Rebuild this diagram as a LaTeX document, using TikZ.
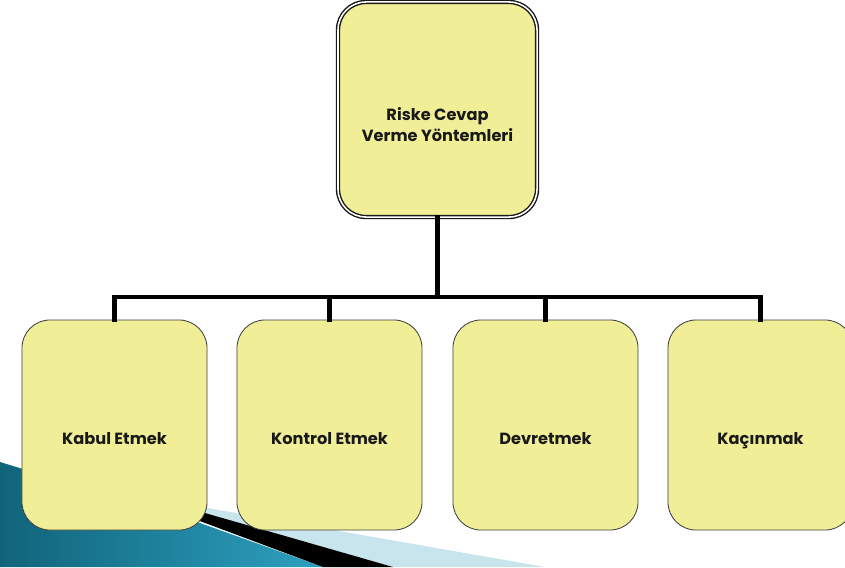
\documentclass[tikz,border=0pt]{standalone}
\usepackage{fontspec}
\setmainfont{Poppins}
\usepackage{tikz}

\definecolor{boxyellow}{RGB}{240,238,150}
\definecolor{tealdark}{RGB}{16,100,122}
\definecolor{teallight}{RGB}{45,160,192}
\definecolor{paleblue}{RGB}{200,228,236}

\begin{document}
\begin{tikzpicture}[x=0.025cm,y=-0.025cm,
    box/.style={draw=black!75, fill=boxyellow, rounded corners=0.7cm, line width=.6pt,
        minimum width=4.625cm, minimum height=5.25cm, inner sep=0},
    rootbox/.style={box, draw=black!90, double=white, double distance=1.1pt, line width=1pt,
        minimum width=4.975cm, minimum height=5.375cm},
    txt/.style={font=\bfseries\fontsize{11.5}{15}\selectfont, text=black!90, align=center},
    leaftxt/.style={txt, text height=1.6ex, text depth=.4ex},
    conn/.style={line width=3.5pt, line cap=rect}]

\clip (0,0) rectangle (845,567);
\fill [white] (0,0) rectangle (845,567);

% slide swoosh
\shade [left color=tealdark, right color=teallight] (0,462) -- (200,523) -- (323,567) -- (0,567) -- cycle;
\fill [paleblue] (150,498) -- (545,567) -- (393,567) -- cycle;
\fill [black] (90,480) -- (393,567) -- (323,567) -- cycle;

\node [rootbox] (root) at (437.5,109.5) {};
\node [txt] at ([yshift=-0.375cm]root.center) {Riske Cevap\\Verme Yöntemleri};

\node [box] (kabul) at (114.5,425) {};
\node [box] (kontrol) at (329.5,425) {};
\node [box] (devret) at (545.5,425) {};
\node [box] (kacin) at (760.5,425) {};
\node [leaftxt] at ([yshift=-0.375cm]kabul.center) {Kabul Etmek};
\node [leaftxt] at ([yshift=-0.375cm]kontrol.center) {Kontrol Etmek};
\node [leaftxt] at ([yshift=-0.375cm]devret.center) {Devretmek};
\node [leaftxt] at ([yshift=-0.375cm]kacin.center) {Kaçınmak};

\coordinate (bus) at (437.5,297);
\draw [conn] (root.south) -- (bus);
\draw [conn] (bus) -| (kabul.north);
\draw [conn] (bus) -| (kontrol.north);
\draw [conn] (bus) -| (devret.north);
\draw [conn] (bus) -| (kacin.north);
\end{tikzpicture}
\end{document}
